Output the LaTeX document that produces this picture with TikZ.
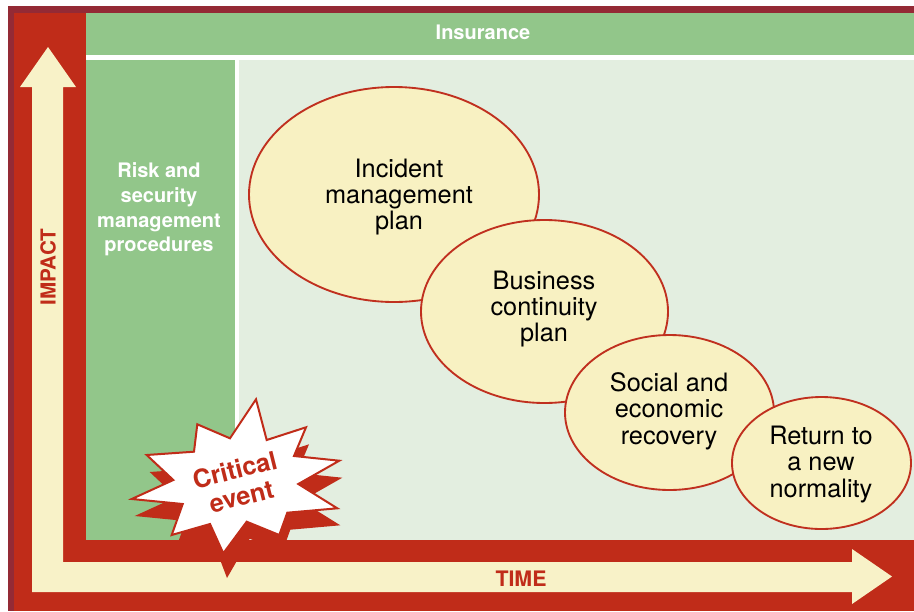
\documentclass[tikz,border=0pt]{standalone}
\usepackage{fontspec}
\setmainfont{TeX Gyre Heros}
\usetikzlibrary{shapes.geometric}
\definecolor{maroon}{HTML}{942A35}
\definecolor{fred}{HTML}{C02C19}
\definecolor{fgreen}{HTML}{92C68A}
\definecolor{lgreen}{HTML}{E3EEE0}
\definecolor{cream}{HTML}{F8F2C8}
\definecolor{efill}{HTML}{F8F1C2}
\definecolor{eline}{HTML}{C0301F}
\tikzset{
  phase/.style={ellipse, draw=eline, fill=efill, line width=1.4pt, inner sep=0pt, outer sep=0pt},
  phasetext/.style={align=center, inner sep=0pt, text=black, font=\fontsize{19}{19.75}\selectfont},
  wbold/.style={text=white, inner sep=0pt, font=\bfseries\fontsize{15}{18.5}\selectfont},
  rbold/.style={text=fred, inner sep=0pt, font=\bfseries\fontsize{15.5}{18}\selectfont},
}
\begin{document}
\begin{tikzpicture}[x=0.75pt,y=-0.75pt]
\useasboundingbox (0,0) rectangle (914,611);
\fill[white] (0,0) rectangle (914,611);
% frame
\fill[maroon] (8,6) rectangle (914,13);
\fill[maroon] (8,6) rectangle (14,611);
\fill[fred] (14,13) rectangle (86,611);
\fill[fred] (14,540) rectangle (914,611);
% panels
\fill[fgreen] (86,13) rectangle (914,55);
\fill[fgreen] (86,60) rectangle (235,540);
\fill[lgreen] (239,60) rectangle (914,540);
% cream L arrow
\fill[cream] (48,47) -- (76,87) -- (63,87) -- (63,562) -- (852,562) -- (852,549)
  -- (892,576.5) -- (852,604) -- (852,592) -- (32,592) -- (32,87) -- (20,87) -- cycle;
% labels
\node[wbold, anchor=base] (ins) at (483,39) {Insurance};
\node[wbold, align=center] (risk) at (159,209.5) {Risk and\\security\\management\\procedures};
\node[rbold, rotate=90] (impact) at (48,267) {IMPACT};
\node[rbold, anchor=base, font=\bfseries\fontsize{16}{18}\selectfont] (time) at (521,586) {TIME};
% phases
\node[phase, minimum width=217.5pt, minimum height=161.25pt] (e1) at (394,194.5) {};
\node[phasetext] (t1) at (399,197) {Incident\\management\\plan};
\node[phase, minimum width=185.25pt, minimum height=137.25pt] (e2) at (544.5,311.5) {};
\node[phasetext] (t2) at (544,309) {Business\\continuity\\plan};
\node[phase, minimum width=156.75pt, minimum height=116.25pt] (e3) at (669.5,412.5) {};
\node[phasetext] (t3) at (669,411) {Social and\\economic\\recovery};
\node[phase, minimum width=134.25pt, minimum height=99pt] (e4) at (821.5,463) {};
\node[phasetext] (t4) at (821,464.5) {Return to\\a new\\normality};
% starburst shadow
\fill[fred] (259,416.3) -- (269.7,457) -- (309,444.3) -- (297,473) -- (342.3,477.7) -- (301.3,501)
  -- (340.3,525.3) -- (290.3,529.7) -- (282.3,552) -- (249.7,538.7) -- (227,578) -- (213,541)
  -- (174.7,552) -- (185.7,521) -- (134.7,516) -- (176.3,497) -- (149.7,472) -- (197,468.7)
  -- (200.3,441.3) -- (233,455.3) -- cycle;
% starburst
\draw[fill=white, draw=fred, line width=1.5pt, line join=miter, miter limit=20]
  (256,399.3) -- (266.7,440) -- (306,427.3) -- (294,456) -- (339.3,460.7) -- (298.3,484)
  -- (337.3,508.3) -- (287.3,512.7) -- (279.3,535) -- (246.7,521.7) -- (223.3,553.3) -- (210,524)
  -- (171.7,535) -- (182.7,504) -- (131.7,499) -- (173.3,480) -- (146.7,455) -- (194,451.7)
  -- (197.3,424.3) -- (230,438.3) -- cycle;
\node[text=fred, align=center, inner sep=0pt, rotate=14, font=\bfseries\fontsize{19}{20.5}\selectfont] (crit) at (238,483) {Critical\\event};
\end{tikzpicture}
\end{document}
